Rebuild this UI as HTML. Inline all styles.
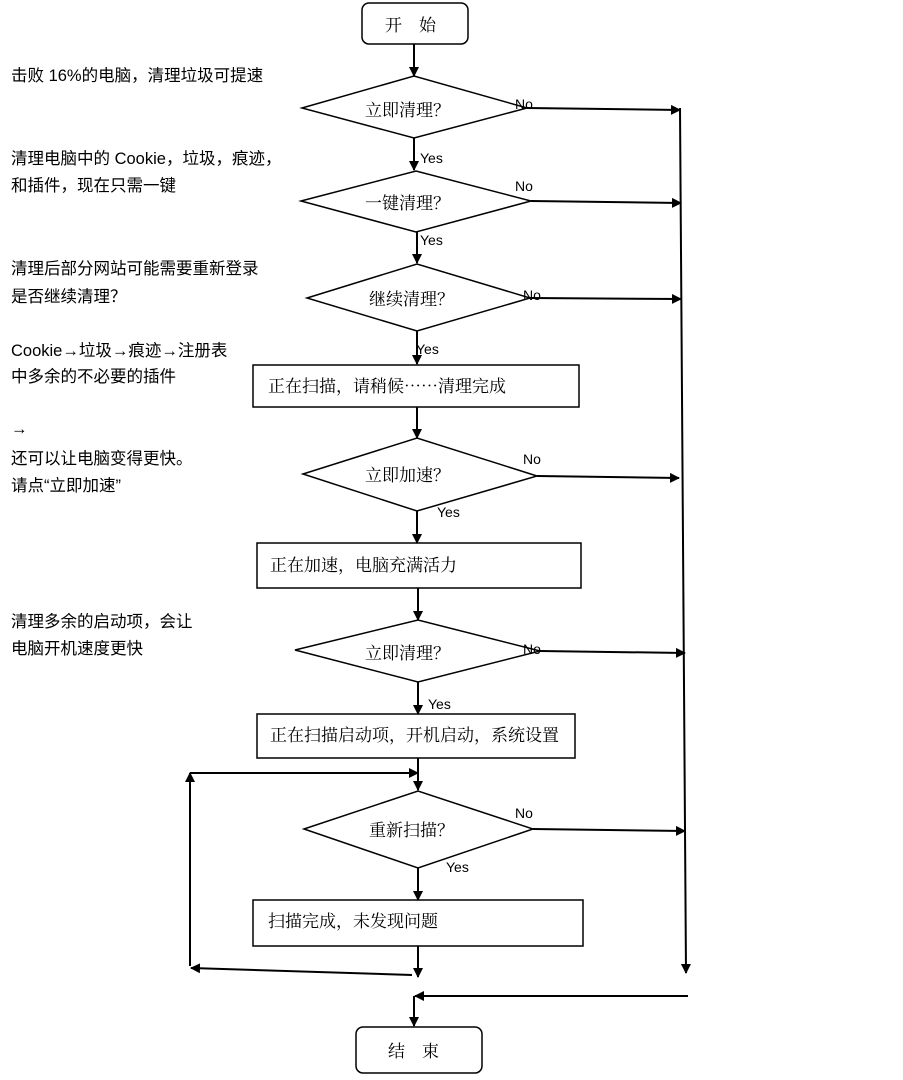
<!DOCTYPE html>
<html><head><meta charset="utf-8"><style>
html,body{margin:0;padding:0;background:#fff;}
svg text{font-family:"Liberation Sans","Noto Sans CJK SC",sans-serif;fill:#000;}
.c{font-family:"Noto Serif CJK SC","Noto Sans CJK SC",serif;font-size:17px;}
.l{font-size:16.5px;}
.y{font-size:14px;}
</style></head><body>
<svg width="903" height="1075" xmlns="http://www.w3.org/2000/svg">
<defs><marker id="a" markerWidth="10" markerHeight="10" refX="9" refY="5" orient="auto" markerUnits="userSpaceOnUse"><path d="M0,0 L10,5 L0,10 z" fill="#000"/></marker></defs>
<g fill="none" stroke="#000" stroke-width="1.5">
<rect x="362" y="3" width="106" height="41" rx="7"/>
<rect x="356" y="1027" width="126" height="46" rx="7"/>
<polygon points="302,108 414,76 527,108 414,138"/>
<polygon points="301,201 416,171 531,201 416,232"/>
<polygon points="307,298 417,264 530,298 417,331"/>
<polygon points="303,474 417,438 537,476 417,511"/>
<polygon points="295,650 418,620 540,651 418,682"/>
<polygon points="304,829 418,791 533,829 418,868"/>
<rect x="253" y="365" width="326" height="42"/>
<rect x="257" y="543" width="324" height="45"/>
<rect x="257" y="714" width="318" height="44"/>
<rect x="253" y="900" width="330" height="46"/>
</g>
<g stroke="#000" stroke-width="2" fill="none" marker-end="url(#a)">
<line x1="414" y1="44" x2="414" y2="76"/>
<line x1="414" y1="138" x2="414" y2="170"/>
<line x1="417" y1="232" x2="417" y2="263"/>
<line x1="417" y1="331" x2="417" y2="364"/>
<line x1="417" y1="407" x2="417" y2="438"/>
<line x1="417" y1="511" x2="417" y2="543"/>
<line x1="418" y1="588" x2="418" y2="620"/>
<line x1="418" y1="682" x2="418" y2="714"/>
<line x1="418" y1="758" x2="418" y2="790"/>
<line x1="418" y1="868" x2="418" y2="900"/>
<line x1="418" y1="946" x2="418" y2="977"/>
<line x1="414" y1="996" x2="414" y2="1026"/>
<line x1="527" y1="108" x2="680" y2="110"/>
<line x1="531" y1="201" x2="681" y2="203"/>
<line x1="530" y1="298" x2="681" y2="299"/>
<line x1="537" y1="476" x2="679" y2="478"/>
<line x1="540" y1="651" x2="685" y2="653"/>
<line x1="533" y1="829" x2="685" y2="831"/>
<line x1="680" y1="108" x2="686" y2="973"/>
<line x1="190" y1="773" x2="418" y2="773"/>
<line x1="190" y1="966" x2="190" y2="773"/>
<line x1="412" y1="975" x2="191" y2="968"/>
<line x1="688" y1="996" x2="415" y2="996"/>
</g>
<text class="c" x="385" y="31">开　始</text>
<text class="c" x="388" y="1057">结　束</text>
<text class="c" x="365" y="116">立即清理？</text>
<text class="c" x="365" y="209">一键清理？</text>
<text class="c" x="369" y="305">继续清理？</text>
<text class="c" x="365" y="481">立即加速？</text>
<text class="c" x="365" y="659">立即清理？</text>
<text class="c" x="369" y="836">重新扫描？</text>
<text class="c" x="268" y="392">正在扫描，请稍候……清理完成</text>
<text class="c" x="270" y="571">正在加速，电脑充满活力</text>
<text class="c" x="270" y="741">正在扫描启动项，开机启动，系统设置</text>
<text class="c" x="268" y="927">扫描完成，未发现问题</text>
<g class="y">
<text x="515" y="109">No</text><text x="420" y="163">Yes</text>
<text x="515" y="191">No</text><text x="420" y="245">Yes</text>
<text x="523" y="300">No</text><text x="416" y="354">Yes</text>
<text x="523" y="464">No</text><text x="437" y="517">Yes</text>
<text x="523" y="654">No</text><text x="428" y="709">Yes</text>
<text x="515" y="818">No</text><text x="446" y="872">Yes</text>
</g>
<g class="l">
<text x="11" y="81">击败 16%的电脑，清理垃圾可提速</text>
<text x="11" y="164">清理电脑中的 Cookie，垃圾，痕迹，</text>
<text x="11" y="191">和插件，现在只需一键</text>
<text x="11" y="274">清理后部分网站可能需要重新登录</text>
<text x="11" y="302">是否继续清理？</text>
<text x="11" y="356">Cookie→垃圾→痕迹→注册表</text>
<text x="11" y="382">中多余的不必要的插件</text>
<text x="11" y="434">→</text>
<text x="11" y="464">还可以让电脑变得更快。</text>
<text x="11" y="491">请点“立即加速”</text>
<text x="11" y="627">清理多余的启动项，会让</text>
<text x="11" y="654">电脑开机速度更快</text>
</g>
</svg>
</body></html>
